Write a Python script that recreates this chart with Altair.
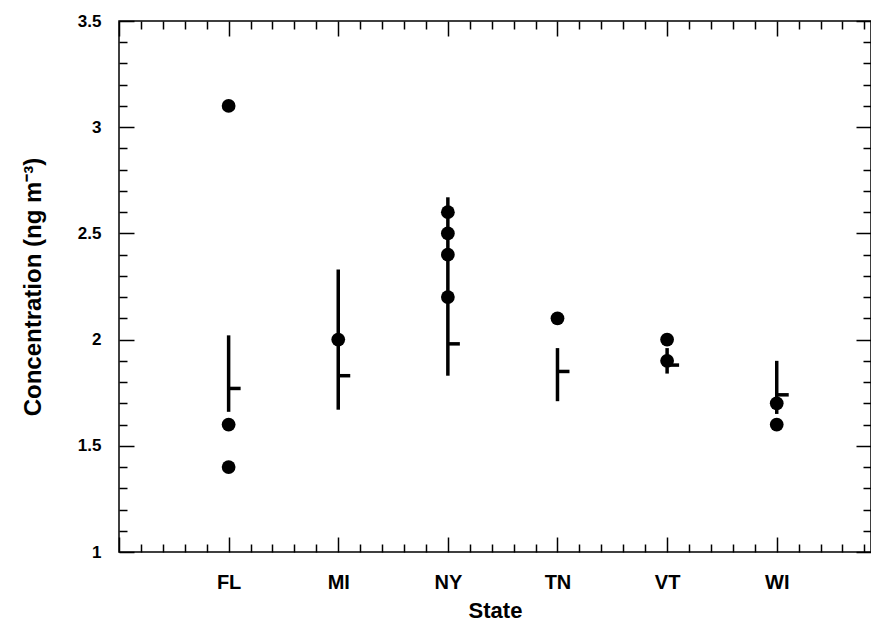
import json
import altair as alt
import pandas as pd

# ---- data ----
states = ["FL", "MI", "NY", "TN", "VT", "WI"]
range_lo = [1.66, 1.67, 1.83, 1.71, 1.84, 1.65]
range_hi = [2.02, 2.33, 2.67, 1.96, 1.96, 1.90]
means = [1.77, 1.83, 1.98, 1.85, 1.88, 1.74]

point_states = ["FL", "FL", "FL", "MI", "NY", "NY", "NY", "NY", "TN", "VT", "VT", "WI", "WI"]
point_values = [3.1, 1.6, 1.4, 2.0, 2.6, 2.5, 2.4, 2.2, 2.1, 2.0, 1.9, 1.7, 1.6]

x_ticks = [round(0.2 * i, 1) for i in range(35)]
y_ticks = [round(1 + 0.1 * i, 1) for i in range(26)]

summary = pd.DataFrame({
    "state": states,
    "pos": [states.index(s) + 1 for s in states],
    "lo": range_lo,
    "hi": range_hi,
    "mean": means,
})
points = pd.DataFrame({
    "state": point_states,
    "pos": [states.index(s) + 1 for s in point_states],
    "value": point_values,
})

FONT = "Liberation Sans"
x_major = "abs(datum.value - round(datum.value)) < 0.001"
y_major = "abs(datum.value * 2 - round(datum.value * 2)) < 0.001"
state_arr = json.dumps(states)

x_scale = alt.Scale(domain=[0, 6.86], nice=False, zero=False)
y_scale = alt.Scale(domain=[1, 3.5], nice=False, zero=False)

common_axis = dict(
    grid=False, domain=False, tickColor="black", tickWidth=1.5,
    labelOverlap=False, labelFlush=False, labelBound=False,
    labelColor="black", labelFont=FONT, labelFontWeight="bold",
    titleFont=FONT, titleFontWeight="bold", titleColor="black",
)

x_axis_bottom = alt.Axis(
    orient="bottom", values=x_ticks,
    tickSize={"condition": {"test": x_major, "value": -15}, "value": -8},
    labelExpr=f"({x_major}) && datum.value >= 1 && datum.value <= {len(states)} ? {state_arr}[round(datum.value) - 1] : ''",
    labelFontSize=20, labelPadding=35, title="State", titleFontSize=22, titlePadding=1,
    **common_axis,
)
y_axis_left = alt.Axis(
    orient="left", values=y_ticks,
    tickSize={"condition": {"test": y_major, "value": -15}, "value": -8},
    labelExpr=f"({y_major}) ? format(datum.value, '~g') : ''",
    labelFontSize=17, labelPadding=33, title="Concentration (ng m⁻³)",
    titleFontSize=24, titlePadding=32,
    **common_axis,
)
x_axis_top = alt.Axis(
    orient="top", values=x_ticks, labels=False, title=None,
    tickSize={"condition": {"test": x_major, "value": -15}, "value": -8},
    grid=False, domain=False, tickColor="black", tickWidth=1.5,
)
y_axis_right = alt.Axis(
    orient="right", values=y_ticks, labels=False, title=None,
    tickSize={"condition": {"test": y_major, "value": -15}, "value": -8},
    grid=False, domain=False, tickColor="black", tickWidth=1.5,
)

ranges = alt.Chart(summary).mark_rule(color="black", strokeWidth=3.5).encode(
    x=alt.X("pos:Q", scale=x_scale, axis=x_axis_bottom),
    y=alt.Y("lo:Q", scale=y_scale, axis=y_axis_left),
    y2="hi:Q",
)

mean_ticks = alt.Chart(summary).mark_rule(color="black", strokeWidth=3.5, x2Offset=12).encode(
    x=alt.X("pos:Q", scale=x_scale, axis=x_axis_top),
    x2="pos:Q",
    y=alt.Y("mean:Q", scale=y_scale, axis=y_axis_right),
)

dots = alt.Chart(points).mark_circle(color="black", size=190, opacity=1).encode(
    x=alt.X("pos:Q", scale=x_scale, axis=None),
    y=alt.Y("value:Q", scale=y_scale, axis=None),
)

chart = alt.layer(ranges, mean_ticks, dots).resolve_axis(
    x="independent", y="independent"
).properties(
    width=752, height=531,
    autosize=alt.AutoSizeParams(type="none"),
    padding={"left": 111, "top": 13, "right": 0, "bottom": 70},
    background="white",
).configure_view(stroke="black", strokeWidth=1.5)

chart.save("out.html", embed_options={"renderer": "svg", "actions": False})
